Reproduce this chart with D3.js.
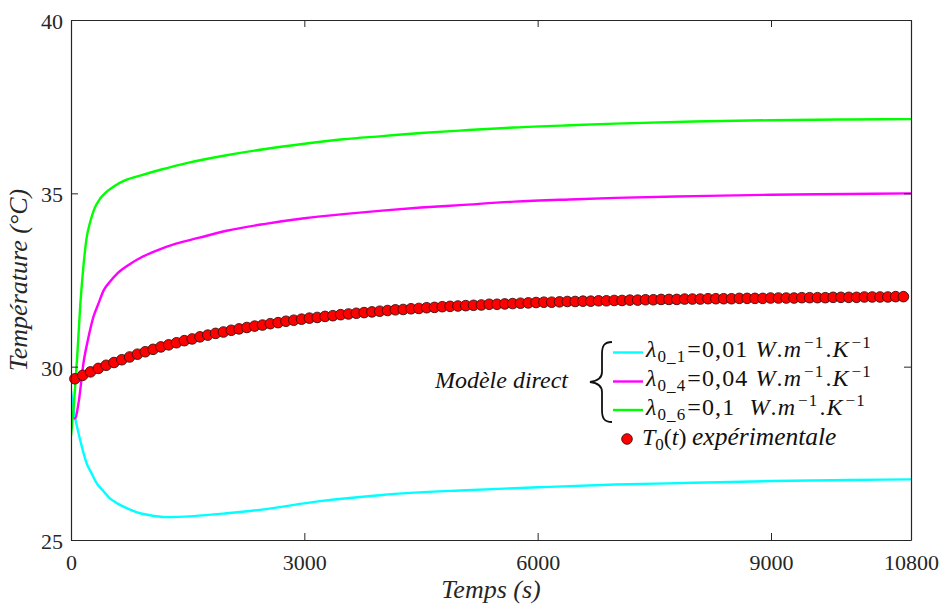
<!DOCTYPE html>
<html>
<head>
<meta charset="utf-8">
<script src="https://cdn.jsdelivr.net/npm/d3@7/dist/d3.min.js"></script>
<style>
  html, body { margin: 0; padding: 0; background: #fff; }
  svg { display: block; }
</style>
</head>
<body>
<svg id="chart" width="944" height="606" font-family="Liberation Serif"></svg>
<script>
// ---------------- DATA ----------------
const xTicks = [0, 3000, 6000, 9000, 10800];
const yTicks = [25, 30, 35, 40];

// λ0_1 = 0,01 (cyan)
const cyanTime = [0, 25, 50, 100, 150, 200, 270, 330, 420, 500, 600, 716, 850, 1000, 1230, 1573, 2000, 2430, 3200, 4000, 5000, 6000, 7000, 8000, 9000, 10000, 10800];
const cyanTemp = [29.3, 28.9, 28.56, 28.05, 27.6, 27.22, 26.9, 26.64, 26.4, 26.2, 26.05, 25.92, 25.8, 25.72, 25.66, 25.69, 25.77, 25.87, 26.12, 26.3, 26.43, 26.52, 26.6, 26.65, 26.7, 26.73, 26.75];

// λ0_4 = 0,04 (magenta)
const magTime = [0, 50, 100, 160, 220, 290, 350, 420, 500, 600, 750, 900, 1100, 1350, 1650, 2000, 2500, 3000, 3500, 4000, 4500, 5000, 5700, 6500, 7000, 8000, 9000, 10000, 10800];
const magTemp = [28.65, 28.5, 29.0, 30.1, 30.8, 31.45, 31.8, 32.2, 32.45, 32.7, 32.95, 33.15, 33.35, 33.55, 33.72, 33.92, 34.12, 34.28, 34.4, 34.5, 34.59, 34.66, 34.76, 34.83, 34.87, 34.92, 34.96, 34.98, 35.0];

// λ0_6 = 0,1 (green)
const greenTime = [0, 40, 80, 120, 160, 200, 250, 300, 375, 450, 550, 700, 900, 1150, 1500, 2000, 2500, 3000, 3500, 4000, 4500, 5000, 5700, 6500, 7000, 8000, 9000, 10000, 10800];
const greenTemp = [28.0, 29.0, 30.3, 31.8, 32.9, 33.7, 34.2, 34.55, 34.85, 35.03, 35.2, 35.38, 35.52, 35.68, 35.88, 36.1, 36.28, 36.43, 36.56, 36.65, 36.74, 36.81, 36.9, 36.97, 37.01, 37.07, 37.11, 37.13, 37.14];

// T0(t) expérimentale (red markers)
const expTemp = [29.65,29.75,29.85,29.95,30.04,30.12,30.20,30.28,30.36,30.43,
  30.50,30.57,30.63,30.69,30.75,30.80,30.86,30.91,30.96,31.00,
  31.05,31.09,31.13,31.17,31.20,31.24,31.27,31.31,31.34,31.37,
  31.40,31.42,31.45,31.47,31.50,31.52,31.54,31.56,31.58,31.60,
  31.62,31.64,31.65,31.67,31.68,31.70,31.71,31.73,31.74,31.75,
  31.76,31.77,31.78,31.80,31.80,31.81,31.82,31.83,31.84,31.85,
  31.86,31.86,31.87,31.88,31.88,31.89,31.89,31.90,31.90,31.91,
  31.91,31.92,31.92,31.93,31.93,31.94,31.94,31.94,31.95,31.95,
  31.95,31.96,31.96,31.96,31.96,31.97,31.97,31.97,31.97,31.98,
  31.98,31.98,31.98,31.99,31.99,31.99,31.99,32.00,32.00,32.00,
  32.00,32.01,32.01,32.01,32.01,32.02,32.02];
const expStart = 50, expStep = 100.5; // sampling of the measurement (s)
const expTime = expTemp.map((_, i) => expStart + i * expStep);

const seriesColors = ["#00FFFF", "#FF00FF", "#00FF00"];

// ---------------- LAYOUT ----------------
const FONT = "Liberation Serif";
const svg = d3.select("#chart");
const L = 71, R = 911, T = 20, B = 540;
const x = d3.scaleLinear().domain([0, 10800]).range([L, R]);
const y = d3.scaleLinear().domain([25, 40]).range([B, T]);
const axisColor = "#262626";

svg.append("defs").append("clipPath").attr("id", "clip")
  .append("rect").attr("x", L).attr("y", T).attr("width", R - L).attr("height", B - T);

// Lines
const line = d3.line().x(d => x(d[0])).y(d => y(d[1])).curve(d3.curveMonotoneX);
const lines = [
  d3.zip(cyanTime, cyanTemp),
  d3.zip(magTime, magTemp),
  d3.zip(greenTime, greenTemp)
];
const gLines = svg.append("g").attr("clip-path", "url(#clip)");
lines.forEach((data, i) => {
  gLines.append("path").datum(data)
    .attr("d", line)
    .attr("fill", "none")
    .attr("stroke", seriesColors[i])
    .attr("stroke-width", 2.4)
    .attr("stroke-linejoin", "round");
});

// Markers
svg.append("g").selectAll("circle")
  .data(d3.zip(expTime, expTemp))
  .join("circle")
  .attr("cx", d => x(d[0]))
  .attr("cy", d => y(d[1]))
  .attr("r", 5.3)
  .attr("fill", "#FF0000")
  .attr("stroke", "#3a1010")
  .attr("stroke-width", 0.9);

// Axes
function styleAxis(g) {
  g.attr("font-family", FONT).attr("font-size", 22);
  g.selectAll("path.domain").attr("stroke", axisColor).attr("stroke-width", 1.2);
  g.selectAll(".tick line").attr("stroke", axisColor).attr("stroke-width", 1);
  g.selectAll(".tick text").attr("fill", "#262626").attr("font-family", FONT).attr("font-size", 22);
}
svg.append("g").attr("transform", `translate(0,${B})`)
  .call(d3.axisBottom(x).tickValues(xTicks).tickSizeInner(-7).tickSizeOuter(0).tickPadding(14).tickFormat(d3.format("d")))
  .call(styleAxis);
svg.append("g").attr("transform", `translate(0,${T})`)
  .call(d3.axisTop(x).tickValues(xTicks).tickSizeInner(-7).tickSizeOuter(0).tickFormat(""))
  .call(styleAxis);
svg.append("g").attr("transform", `translate(${L},0)`)
  .call(d3.axisLeft(y).tickValues(yTicks).tickSizeInner(-7).tickSizeOuter(0).tickPadding(8).tickFormat(d3.format("d")))
  .call(styleAxis)
  .selectAll(".tick text").attr("dy", "0.38em");
svg.append("g").attr("transform", `translate(${R},0)`)
  .call(d3.axisRight(y).tickValues(yTicks).tickSizeInner(-7).tickSizeOuter(0).tickFormat(""))
  .call(styleAxis);

// Axis titles
svg.append("text")
  .attr("x", (L + R) / 2).attr("y", 598)
  .attr("text-anchor", "middle").attr("font-family", FONT)
  .attr("font-style", "italic").attr("font-size", 26).attr("fill", "#262626")
  .text("Temps (s)");
svg.append("text")
  .attr("transform", `translate(27,${(T + B) / 2}) rotate(-90)`)
  .attr("text-anchor", "middle").attr("font-family", FONT)
  .attr("font-style", "italic").attr("font-size", 26).attr("fill", "#262626")
  .text("Température (°C)");

// ---------------- LEGEND ----------------
const legendLabels = [
  { sub: "0_1", val: "=0,01\u00a0" },
  { sub: "0_4", val: "=0,04\u00a0" },
  { sub: "0_6", val: "=0,1\u00a0\u00a0" }
];
const legendRowsY = [352.5, 381.5, 410];
const fs = 24, fsSmall = 17;
legendLabels.forEach((lab, i) => {
  const cy = legendRowsY[i];
  svg.append("line")
    .attr("x1", 613).attr("x2", 643).attr("y1", cy).attr("y2", cy)
    .attr("stroke", seriesColors[i]).attr("stroke-width", 2.4);
  const t = svg.append("text").attr("x", 646).attr("y", cy + 4.5)
    .attr("font-family", FONT).attr("font-size", fs).attr("fill", "#111")
    .attr("letter-spacing", 1.1);
  t.append("tspan").attr("font-style", "italic").text("λ");
  t.append("tspan").attr("font-size", fsSmall).attr("dy", 5).text(lab.sub);
  t.append("tspan").attr("dy", -5).attr("dx", 1).text(lab.val);
  t.append("tspan").attr("font-style", "italic").text("W");
  t.append("tspan").text(".");
  t.append("tspan").attr("font-style", "italic").text("m");
  t.append("tspan").attr("font-size", fsSmall).attr("dy", -9).attr("dx", 2).text("−1");
  t.append("tspan").attr("dy", 9).attr("dx", 1).text(".");
  t.append("tspan").attr("font-style", "italic").text("K");
  t.append("tspan").attr("font-size", fsSmall).attr("dy", -9).attr("dx", 2).text("−1");
});

// Brace and "Modèle direct"
svg.append("path")
  .attr("d", "M 612 342 C 604 342, 602 346, 602 354 L 602 372 C 602 378, 598 381, 590 382 C 598 383, 602 386, 602 392 L 602 410 C 602 418, 604 422, 612 422")
  .attr("fill", "none").attr("stroke", "#111").attr("stroke-width", 1.8);
svg.append("text")
  .attr("x", 568).attr("y", 388).attr("text-anchor", "end")
  .attr("font-family", FONT).attr("font-style", "italic").attr("font-size", 24).attr("fill", "#111")
  .text("Modèle direct");

// Experimental entry
svg.append("circle").attr("cx", 627).attr("cy", 439).attr("r", 5.3)
  .attr("fill", "#FF0000").attr("stroke", "#3a1010").attr("stroke-width", 0.9);
const te = svg.append("text").attr("x", 642).attr("y", 445)
  .attr("font-family", FONT).attr("font-size", fs).attr("fill", "#111");
te.append("tspan").attr("font-style", "italic").text("T");
te.append("tspan").attr("font-size", fsSmall).attr("dy", 5).text("0");
te.append("tspan").attr("dy", -5).text("(");
te.append("tspan").attr("font-style", "italic").text("t");
te.append("tspan").text(")");
te.append("tspan").attr("x", 692).attr("font-style", "italic").attr("font-size", 25.5).text("expérimentale");
</script>
</body>
</html>
